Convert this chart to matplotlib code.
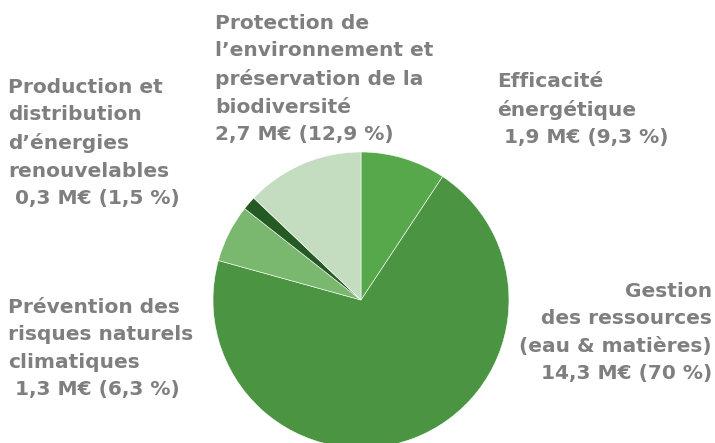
import matplotlib.pyplot as plt

# slices, clockwise from the top
labels = ["Efficacité\nénergétique\n 1,9 M€ (9,3 %)",
          "Gestion\ndes ressources\n(eau & matières)\n14,3 M€ (70 %)",
          "Prévention des\nrisques naturels\nclimatiques\n 1,3 M€ (6,3 %)",
          "Production et\ndistribution\nd’énergies\nrenouvelables\n 0,3 M€ (1,5 %)",
          "Protection de\nl’environnement et\npréservation de la\nbiodiversité\n2,7 M€ (12,9 %)"]
shares = [9.3, 70.0, 6.3, 1.5, 12.9]
colors = ["#57a84b", "#4a9442", "#79b86e", "#265a24", "#c4ddc0"]

W, H = 715, 443
fig = plt.figure(figsize=(W / 100, H / 100), dpi=100)

# pie centre and radius in pixels
cx, cy, r = 361, 300, 148
ax = fig.add_axes([(cx - r) / W, (H - cy - r) / H, 2 * r / W, 2 * r / H])
ax.pie(shares, colors=colors, startangle=90, counterclock=False, radius=1,
       wedgeprops=dict(edgecolor="white", linewidth=0.4))
ax.set_xlim(-1, 1)
ax.set_ylim(-1, 1)
ax.set_aspect("auto")
ax.axis("off")

# label positions (pixel x, pixel y of top line, alignment)
spots = [(497, 72, "left"), (712, 282, "right"), (8, 298, "left"),
         (8, 78, "left"), (215, 14, "left")]

for txt, (x, y, ha) in zip(labels, spots):
    fig.text(x / W, 1 - y / H, txt, ha=ha, va="top", multialignment=ha,
             fontsize=14.5, fontweight="bold", color="#7f7f7f",
             family="DejaVu Sans", linespacing=1.56)

fig.savefig("out.png", dpi=100)
